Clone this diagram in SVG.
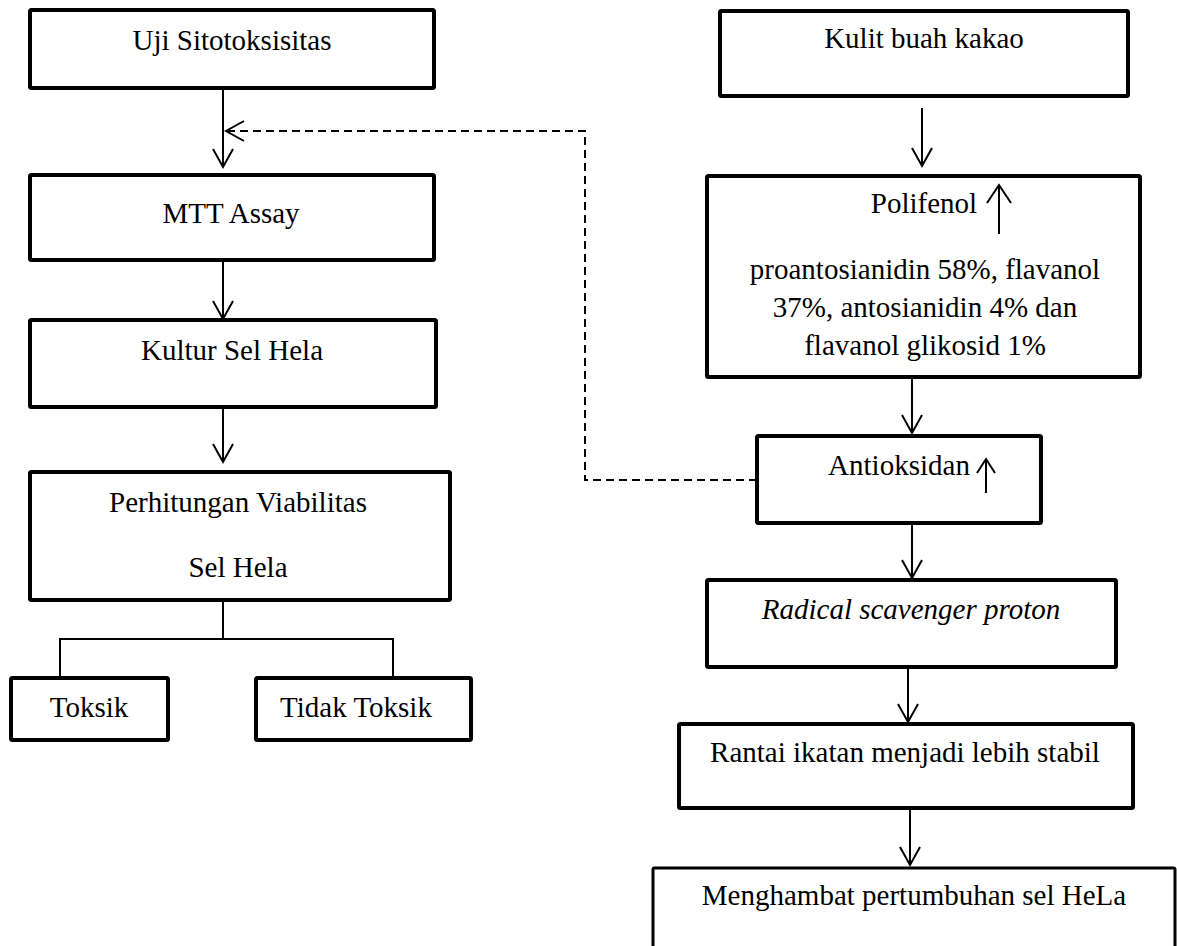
<svg xmlns="http://www.w3.org/2000/svg" width="1177" height="946" viewBox="0 0 1177 946">
<style>
.box{fill:#fff;stroke:#000;stroke-width:4;}
.thin{stroke-width:3;}
.t{font-family:"Liberation Serif","Times New Roman",serif;font-size:29px;fill:#000;text-anchor:middle;}
.i{font-style:italic;}
.c{fill:none;stroke:#000;stroke-width:2;}
.d{stroke-dasharray:8 5;}
</style>
<defs>
<marker id="arr" viewBox="0 0 20 20" refX="19" refY="10" markerWidth="20" markerHeight="20" markerUnits="userSpaceOnUse" orient="auto" overflow="visible">
<path d="M1,0 L19,10 L1,20" fill="none" stroke="#000" stroke-width="2"/>
</marker>
</defs>
<rect width="1177" height="946" fill="#fff"/>
<g id="connectors">
<path class="c" d="M223,88 V167" marker-end="url(#arr)"/>
<path class="c" d="M223,260 V319" marker-end="url(#arr)"/>
<path class="c" d="M223,407 V462" marker-end="url(#arr)"/>
<path class="c" d="M223,600 V639 M60,678 V639 H393 V678"/>
<path class="c d" d="M757,480 H585 V131 H226" marker-end="url(#arr)"/>
<path class="c" d="M922,108 V166" marker-end="url(#arr)"/>
<path class="c" d="M912,376 V433" marker-end="url(#arr)"/>
<path class="c" d="M912,523 V578" marker-end="url(#arr)"/>
<path class="c" d="M908,667 V722" marker-end="url(#arr)"/>
<path class="c" d="M910,808 V865" marker-end="url(#arr)"/>
</g>
<g id="uji"><rect class="box" x="30" y="10" width="404" height="78" rx="1.5"/><text class="t" x="232" y="50">Uji Sitotoksisitas</text></g>
<g id="mtt"><rect class="box" x="30" y="175" width="404" height="85" rx="1.5"/><text class="t" x="231" y="223">MTT Assay</text></g>
<g id="kultur"><rect class="box" x="30" y="320" width="406" height="87" rx="1.5"/><text class="t" x="232" y="360">Kultur Sel Hela</text></g>
<g id="perhitungan"><rect class="box" x="30" y="472" width="420" height="128" rx="1.5"/><text class="t" x="238" y="512">Perhitungan Viabilitas</text><text class="t" x="238" y="577">Sel Hela</text></g>
<g id="toksik"><rect class="box" x="11" y="678" width="157" height="62" rx="1.5"/><text class="t" x="89" y="717">Toksik</text></g>
<g id="tidak-toksik"><rect class="box" x="256" y="678" width="215" height="62" rx="1.5"/><text class="t" x="356" y="717">Tidak Toksik</text></g>
<g id="kulit"><rect class="box" x="720" y="11" width="408" height="85" rx="1.5"/><text class="t" x="924" y="48">Kulit buah kakao</text></g>
<g id="polifenol"><rect class="box" x="707" y="176" width="433" height="201" rx="1.5"/><text class="t" x="924" y="213">Polifenol</text>
<path class="c" d="M999,234 V185 M987,203 L999,185 L1011,203"/>
<text class="t" x="925" y="279">proantosianidin 58%, flavanol</text>
<text class="t" x="925" y="317">37%, antosianidin 4% dan</text>
<text class="t" x="925" y="355">flavanol glikosid 1%</text></g>
<g id="antioksidan"><rect class="box" x="757" y="436" width="284" height="87" rx="1.5"/><text class="t" x="899" y="475">Antioksidan</text>
<path class="c" d="M986,493 V459 M977,473 L986,459 L995,473"/></g>
<g id="radical"><rect class="box" x="707" y="580" width="409" height="87" rx="1.5"/><text class="t i" x="911" y="619">Radical scavenger proton</text></g>
<g id="rantai"><rect class="box" x="679" y="724" width="454" height="84" rx="1.5"/><text class="t" x="905" y="762">Rantai ikatan menjadi lebih stabil</text></g>
<g id="menghambat"><rect class="box thin" x="653" y="868" width="522" height="120" rx="1.5"/><text class="t" x="914" y="905">Menghambat pertumbuhan sel HeLa</text></g>
</svg>
